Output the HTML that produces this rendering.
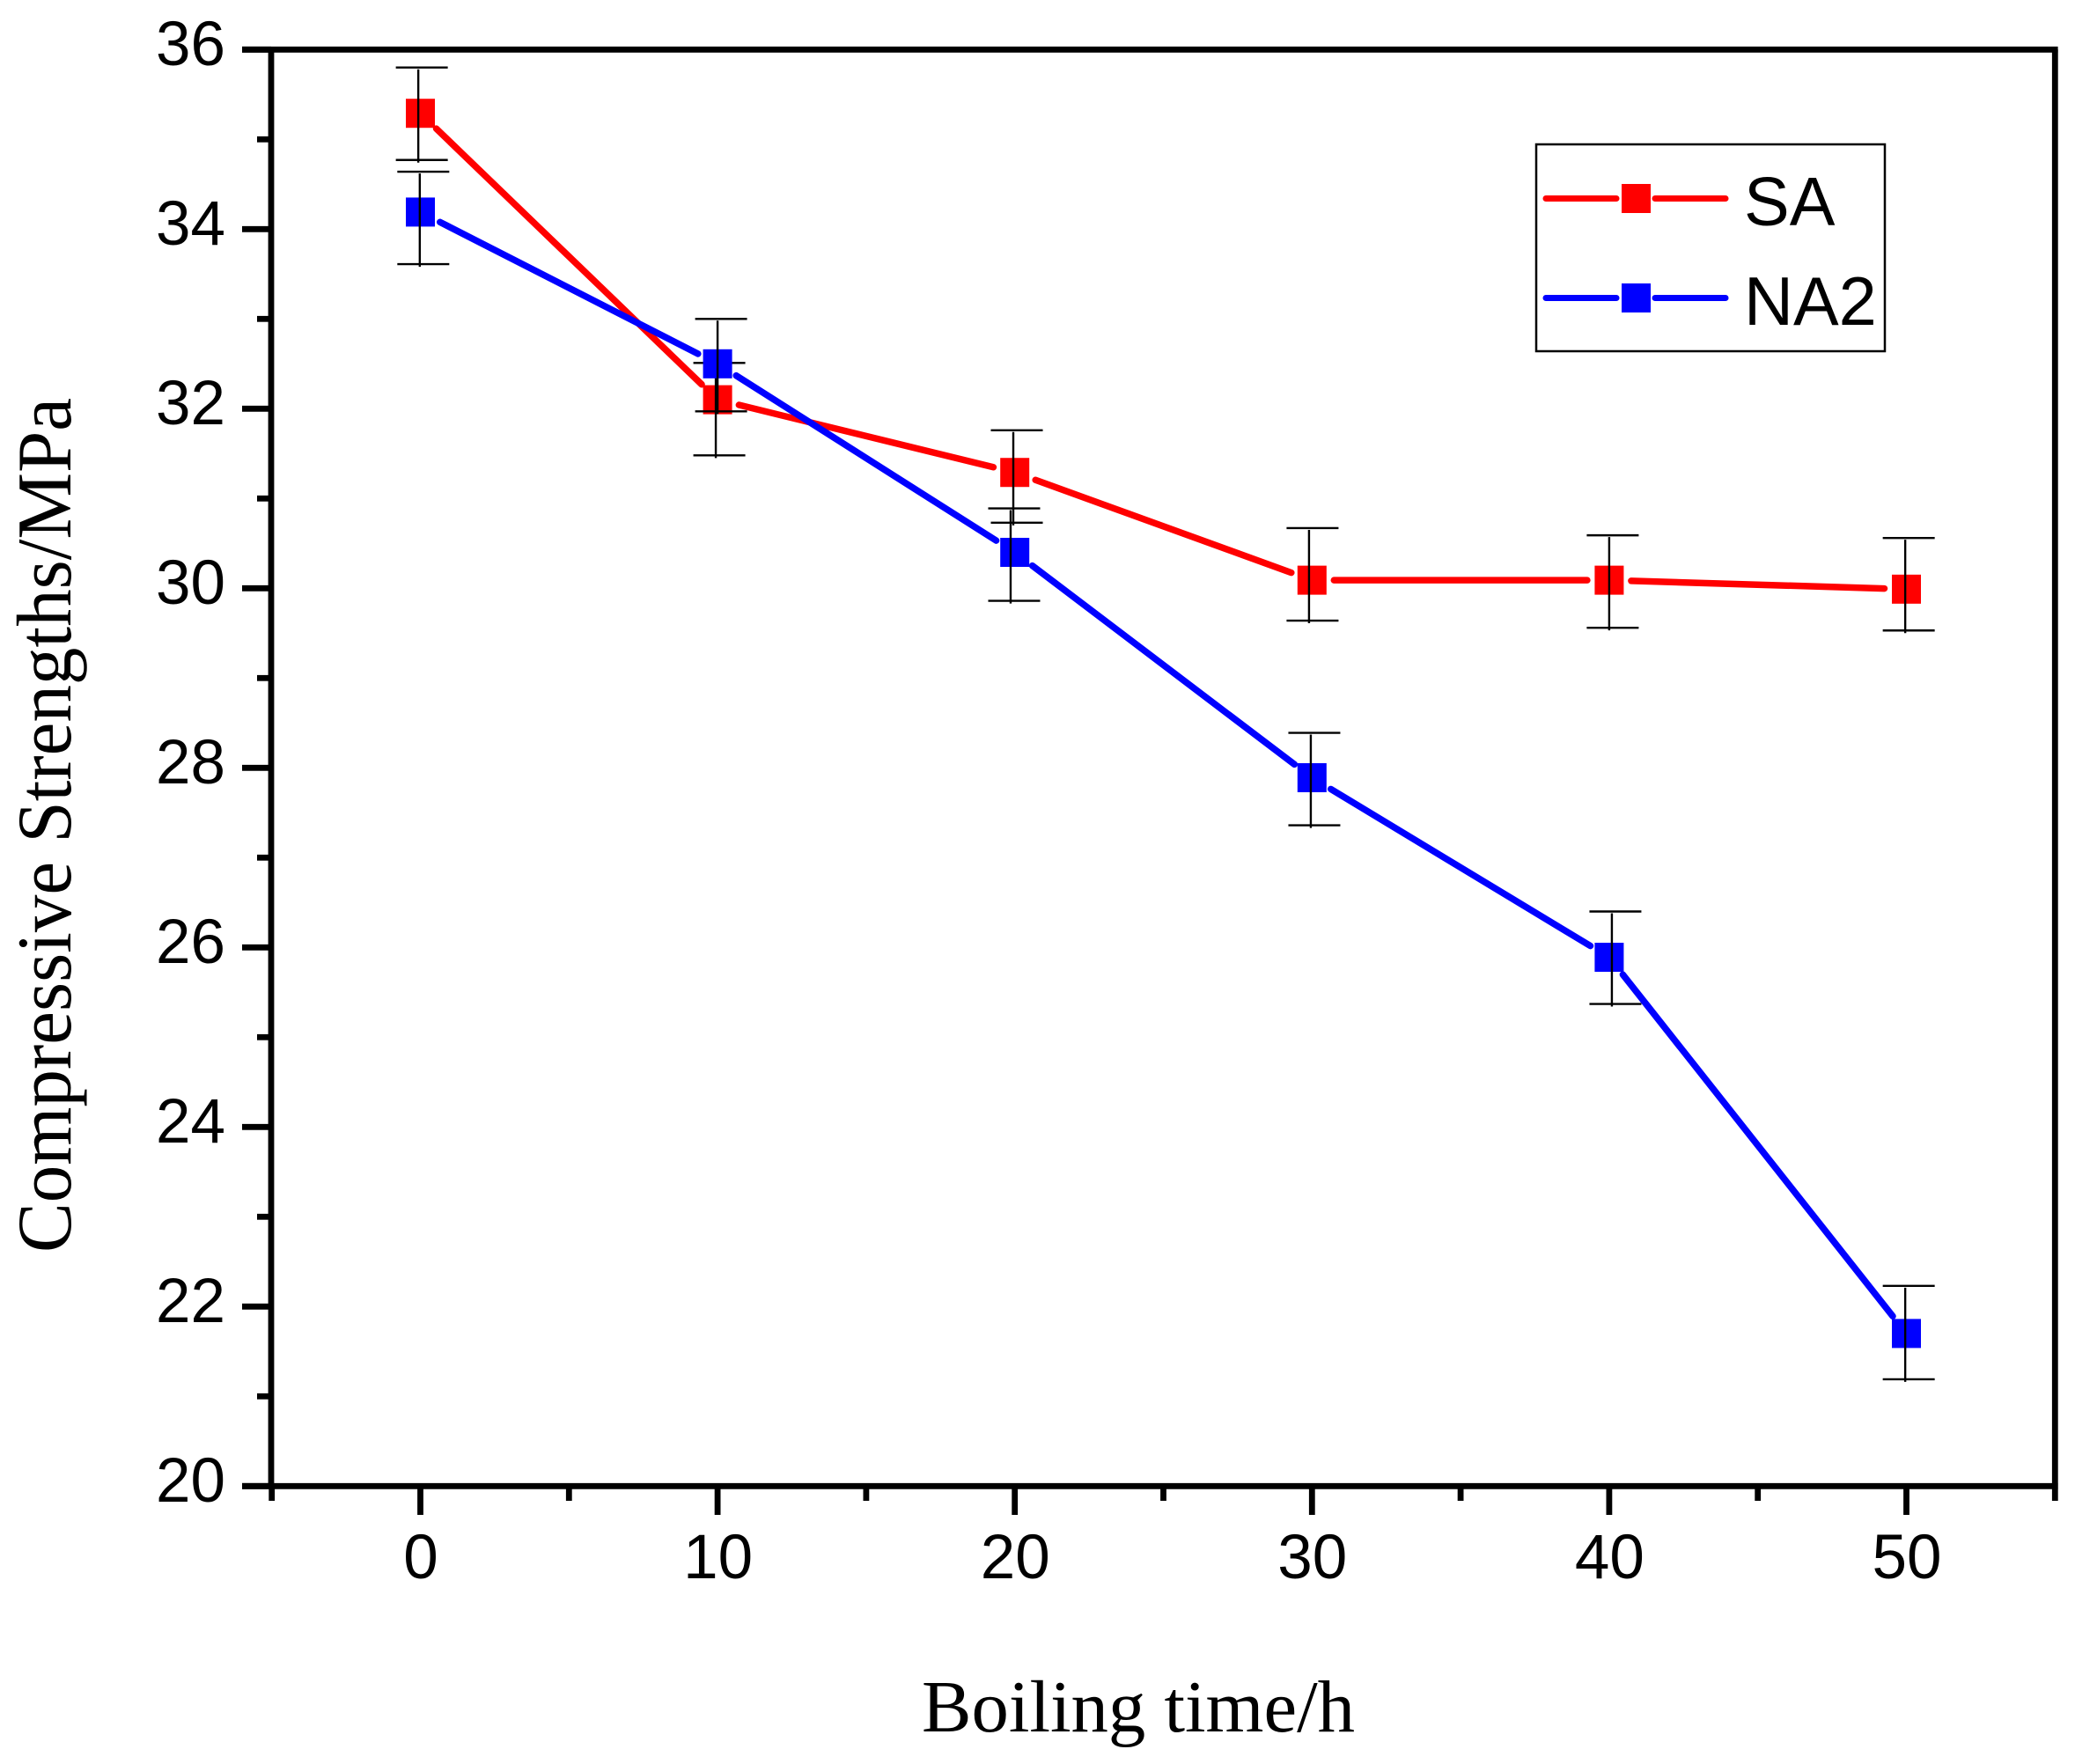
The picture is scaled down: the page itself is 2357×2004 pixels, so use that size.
<!DOCTYPE html>
<html>
<head>
<meta charset="utf-8">
<title>Compressive strength vs boiling time</title>
<style>
html,body{margin:0;padding:0;background:#fff;}
svg{display:block;}
.tick-label{font-family:"Liberation Sans",Arial,sans-serif;font-size:71px;fill:#000;}
.legend-label{font-family:"Liberation Sans",Arial,sans-serif;font-size:77.5px;fill:#000;}
.axis-title{font-family:"Liberation Serif","Times New Roman",serif;font-size:84px;fill:#000;}
.y-title{font-size:88px;}
</style>
</head>
<body>
<svg id="chart" width="2357" height="2004" viewBox="0 0 2357 2004" xmlns="http://www.w3.org/2000/svg">
  <rect x="0" y="0" width="2357" height="2004" fill="#fff"/>
  <g id="series-layer"></g>
  <g id="axes-layer"></g>
  <text class="axis-title" x="1047" y="1967" textLength="492" lengthAdjust="spacingAndGlyphs">Boiling time/h</text>
  <text class="axis-title y-title" transform="translate(80 1423) rotate(-90)" x="0" y="0" textLength="971" lengthAdjust="spacingAndGlyphs">Compressive Strengths/MPa</text>
  <g>
    <rect x="1745" y="164" width="396" height="235" fill="#fff" stroke="#000" stroke-width="2.5"/>
    <g>
      <line x1="1756" y1="225.5" x2="1836" y2="225.5" stroke="#ff0000" stroke-width="7" stroke-linecap="round"/>
      <line x1="1880" y1="225.5" x2="1960" y2="225.5" stroke="#ff0000" stroke-width="7" stroke-linecap="round"/>
      <rect x="1842" y="209" width="33" height="33" fill="#ff0000"/>
      <text class="legend-label" x="1981" y="255.5">SA</text>
    </g>
    <g>
      <line x1="1756" y1="338.5" x2="1836" y2="338.5" stroke="#0000ff" stroke-width="7" stroke-linecap="round"/>
      <line x1="1880" y1="338.5" x2="1960" y2="338.5" stroke="#0000ff" stroke-width="7" stroke-linecap="round"/>
      <rect x="1842" y="322" width="33" height="33" fill="#0000ff"/>
      <text class="legend-label" x="1981" y="369">NA2</text>
    </g>
  </g>
</svg>
<script>
var boilingHours = [0, 10, 20, 30, 40, 50];
var saValues = [35.29, 32.1, 31.29, 30.09, 30.09, 29.99];
var saErrorHigh = [35.8, 32.51, 31.76, 30.67, 30.59, 30.56];
var saErrorLow = [34.77, 31.48, 30.73, 29.64, 29.56, 29.53];
var saErrorHours = [-0.07, 9.94, 19.95, 29.9, 40.0, 49.96];
var na2Values = [34.19, 32.5, 30.4, 27.89, 25.89, 21.7];
var na2ErrorHigh = [34.64, 33.0, 30.89, 28.39, 26.4, 22.23];
var na2ErrorLow = [33.61, 31.97, 29.86, 27.36, 25.37, 21.19];
var na2ErrorHours = [-0.02, 10.0, 19.86, 29.96, 40.09, 49.96];
var xTickValues = [-5, 0, 5, 10, 15, 20, 25, 30, 35, 40, 45, 50, 55];
var xTickLabels = ["", "0", "", "10", "", "20", "", "30", "", "40", "", "50", ""];
var yTickValues = [20, 21, 22, 23, 24, 25, 26, 27, 28, 29, 30, 31, 32, 33, 34, 35, 36];
var yTickLabels = ["20", "", "22", "", "24", "", "26", "", "28", "", "30", "", "32", "", "34", "", "36"];

var NS = "http://www.w3.org/2000/svg";
var plotLeft = 308, plotRight = 2334.3, plotTop = 56.3, plotBottom = 1688.3;
var xZero = 477.5, xPerHour = 33.76;
function xScale(v) { return xZero + v * xPerHour; }
function yScale(v) { return plotBottom - (v - 20) / 16 * (plotBottom - plotTop); }

function shape(parent, tag, props) {
  var node = document.createElementNS(NS, tag);
  for (var key in props) { node.setAttribute(key, props[key]); }
  parent.appendChild(node);
  return node;
}

var seriesLayer = document.getElementById("series-layer");
var axesLayer = document.getElementById("axes-layer");
var el;

function drawSeries(key, color, values, high, low, errHours) {
  var group = shape(seriesLayer, "g", {});
  
  
  var gap = 25;
  for (var i = 0; i < values.length - 1; i++) {
    var x1 = xScale(boilingHours[i]), y1 = yScale(values[i]);
    var x2 = xScale(boilingHours[i + 1]), y2 = yScale(values[i + 1]);
    var d = Math.sqrt((x2 - x1) * (x2 - x1) + (y2 - y1) * (y2 - y1));
    var ux = (x2 - x1) / d, uy = (y2 - y1) / d;
    el = shape(group, "line", {x1: x1 + ux * gap, y1: y1 + uy * gap, x2: x2 - ux * gap, y2: y2 - uy * gap, stroke: color, "stroke-width": 7.5, "stroke-linecap": "round"});
    
    
  }
  for (var j = 0; j < values.length; j++) {
    el = shape(group, "rect", {x: xScale(boilingHours[j]) - 16.5, y: yScale(values[j]) - 16.5, width: 33, height: 33, fill: color});
    
    
  }
  for (var k = 0; k < values.length; k++) {
    var ex = xScale(errHours[k]), yh = yScale(high[k]), yl = yScale(low[k]);
    el = shape(group, "line", {x1: ex, y1: yh + 2, x2: ex, y2: yl + 3, stroke: "#000", "stroke-width": 2.4});
    
    
    el = shape(group, "line", {x1: ex - 25.5, y1: yh, x2: ex + 33.5, y2: yh, stroke: "#000", "stroke-width": 2.4});
    
    
    el = shape(group, "line", {x1: ex - 25.5, y1: yl, x2: ex + 33.5, y2: yl, stroke: "#000", "stroke-width": 2.4});
    
    
  }
}
drawSeries("sa", "#ff0000", saValues, saErrorHigh, saErrorLow, saErrorHours);
drawSeries("na2", "#0000ff", na2Values, na2ErrorHigh, na2ErrorLow, na2ErrorHours);

el = shape(axesLayer, "line", {x1: plotLeft - 33, y1: plotTop, x2: plotRight + 3.3, y2: plotTop, stroke: "#000", "stroke-width": 6.8});


el = shape(axesLayer, "line", {x1: plotLeft - 33, y1: plotBottom, x2: plotRight + 3.3, y2: plotBottom, stroke: "#000", "stroke-width": 6.8});


el = shape(axesLayer, "line", {x1: plotLeft, y1: plotTop, x2: plotLeft, y2: plotBottom, stroke: "#000", "stroke-width": 6.8});


el = shape(axesLayer, "line", {x1: plotRight, y1: plotTop, x2: plotRight, y2: plotBottom, stroke: "#000", "stroke-width": 6.8});



xTickValues.forEach(function (value, i) {
  var isMajor = xTickLabels[i] !== "";
  var px = xScale(value);
  el = shape(axesLayer, "line", {x1: px, y1: plotBottom, x2: px, y2: isMajor ? 1721 : 1705, stroke: "#000", "stroke-width": 6.8});
  
  
  if (isMajor) {
    el = shape(axesLayer, "text", {x: px + 0.5, y: 1793, "text-anchor": "middle", "class": "tick-label"});
    el.textContent = xTickLabels[i];
    
    
  }
});

yTickValues.forEach(function (value, i) {
  var isMajor = yTickLabels[i] !== "";
  var py = yScale(value);
  el = shape(axesLayer, "line", {x1: isMajor ? 275 : 292, y1: py, x2: plotLeft, y2: py, stroke: "#000", "stroke-width": 6.8});
  
  
  if (isMajor) {
    el = shape(axesLayer, "text", {x: 256, y: py + 17.5, "text-anchor": "end", "class": "tick-label"});
    el.textContent = yTickLabels[i];
    
    
  }
});
</script>
</body>
</html>
